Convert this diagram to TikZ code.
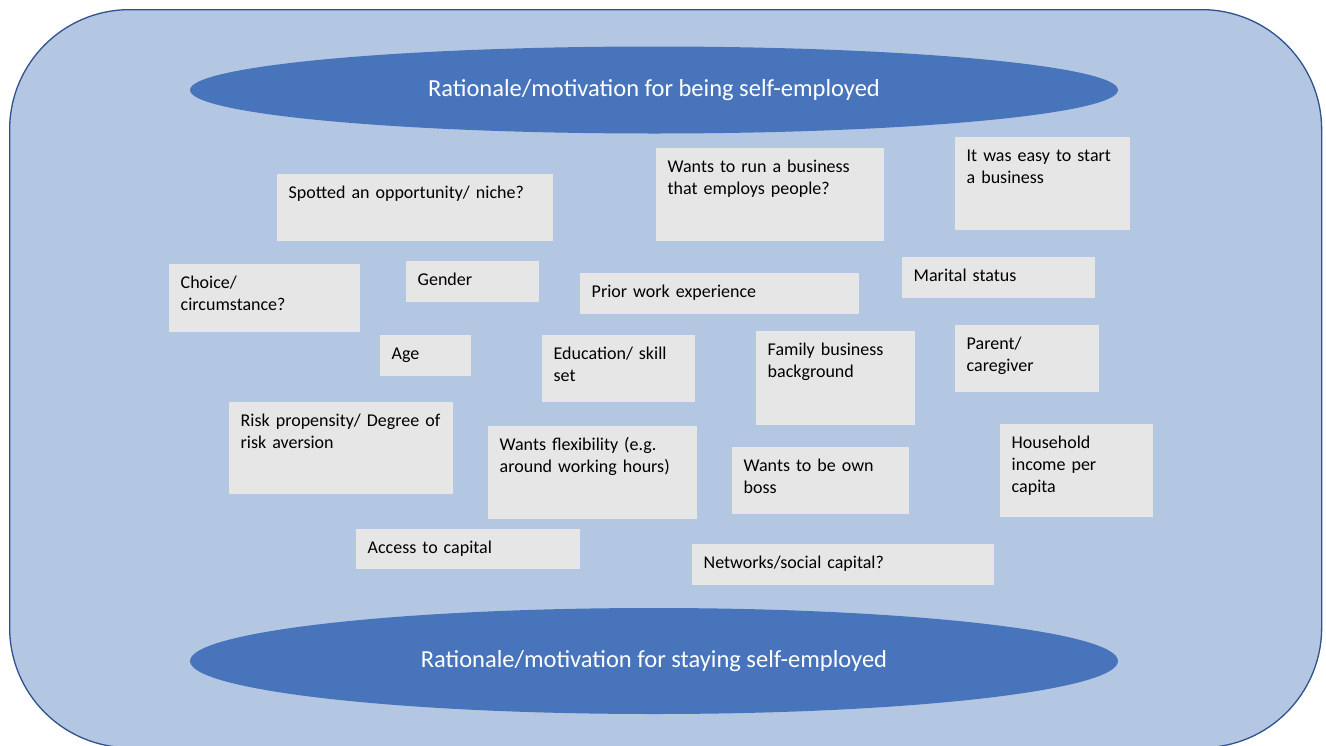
\documentclass[tikz,border=0pt]{standalone}
\usepackage{fontspec}
\setmainfont{Carlito}
\usetikzlibrary{shapes.geometric}
\definecolor{panelfill}{HTML}{B4C7E2}
\definecolor{paneledge}{HTML}{2F528F}
\definecolor{ovalfill}{HTML}{4874BB}
\definecolor{notefill}{HTML}{E6E6E6}
\tikzset{
  panel/.style={fill=panelfill, draw=paneledge, line width=1.3pt, rounded corners=120pt},
  oval/.style={ellipse, fill=ovalfill, draw=none, inner sep=0pt, text=white,
    font=\fontsize{24.5}{29}\selectfont},
  notebox/.style={rectangle, fill=notefill, draw=none, inner sep=0pt, anchor=north west},
  notetext/.style={inner sep=0pt, anchor=base west, align=left, text width=300pt,
    font=\fontsize{18}{22}\selectfont}
}
% #1 name, #2-#5 corners (x1,y1,x2,y2), #6 text
\newcommand\memo[6]{%
  \node[notebox, minimum width={#4-#2}, minimum height={#5-#3}] (#1) at (#2,#3) {};
  \node[notetext] (#1-t) at ([xshift=11.5pt,yshift=-24.5pt]#1.north west) {#6};
}
\begin{document}
\begin{tikzpicture}[x=1pt,y=-1pt]
\useasboundingbox (0,0) rectangle (1326,745);
% outer panel
\node[panel, rectangle, minimum width=1312pt, minimum height=738pt, anchor=north west, inner sep=0pt] (frame) at (9,9) {};
% headline ovals
\node[oval, minimum width=928pt, minimum height=87pt] (being) at (654,90) {Rationale/motivation for being self-employed};
\node[oval, minimum width=928pt, minimum height=106pt] (staying) at (654,661) {Rationale/motivation for staying self-employed};
% factor notes
\memo{spotted}{277}{174}{553}{241}{Spotted an opportunity/ niche?}
\memo{employs}{656}{148}{884}{241}{Wants to run a business\\that employs people?}
\memo{easy}{955}{137}{1130}{230}{It was easy to start\\a business}
\memo{choice}{169}{264}{360}{332}{Choice/\\circumstance?}
\memo{gender}{406}{261}{539}{302}{Gender}
\memo{prior}{580}{273}{859}{314}{Prior work experience}
\memo{marital}{902}{257}{1095}{298}{Marital status}
\memo{age}{380}{335}{471}{376}{Age}
\memo{educ}{542}{335}{695}{402}{Education/ skill\\set}
\memo{family}{756}{331}{915}{425}{Family business\\background}
\memo{parent}{955}{325}{1099}{392}{Parent/\\caregiver}
\memo{risk}{229}{402}{453}{494}{Risk propensity/ Degree of\\risk aversion}
\memo{flex}{488}{426}{697}{519}{Wants flexibility (e.g.\\around working hours)}
\memo{boss}{732}{447}{909}{514}{Wants to be own\\boss}
\memo{income}{1000}{424}{1153}{517}{Household\\income per\\capita}
\memo{capital}{356}{529}{580}{569}{Access to capital}
\memo{networks}{692}{544}{994}{585}{Networks/social capital?}
\end{tikzpicture}
\end{document}
